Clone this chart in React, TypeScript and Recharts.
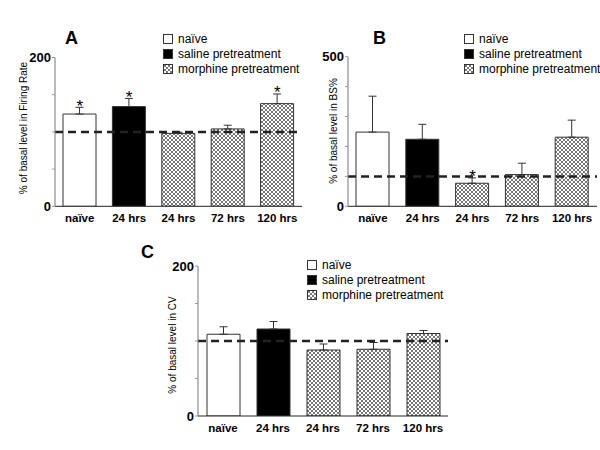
import React from "react";
import {
  ComposedChart,
  Bar,
  Cell,
  ErrorBar,
  Scatter,
  XAxis,
  YAxis,
  ReferenceLine,
} from "recharts";

// groups and categories shared by all three panels
const categories = ["naïve", "24 hrs", "24 hrs", "72 hrs", "120 hrs"];
const groups = ["naive", "saline", "morphine", "morphine", "morphine"];

const legendItems = [
  { key: "naive", label: "naïve" },
  { key: "saline", label: "saline pretreatment" },
  { key: "morphine", label: "morphine pretreatment" },
];

// panel A: firing rate
const firingRate = [124, 134, 98, 104, 138];
const firingRateErr = [9, 11, 1.5, 5, 13];
const firingRateSig = [true, true, false, false, true];

// panel B: BS%
const bsPercent = [248, 224, 77, 106, 231];
const bsPercentErr = [120, 50, 18, 38, 57];
const bsPercentSig = [false, false, true, false, false];

// panel C: CV
const cv = [109, 116, 88, 89, 110];
const cvErr = [10, 10, 8, 9, 4];
const cvSig = [false, false, false, false, false];

const FONT = "'Liberation Sans', Arial, Helvetica, sans-serif";

const fills: Record<string, string> = {
  naive: "#ffffff",
  saline: "#000000",
  morphine: "url(#hatch)",
};

interface PanelProps {
  letter: string;
  yLabel: string;
  values: number[];
  errs: number[];
  sig: boolean[];
  max: number;
  ticks: number[];
  left: number;
  top: number;
  width: number;
  height: number;
  margin: { top: number; right: number; bottom: number; left: number };
  yLabelPos: [number, number];
  letterPos: [number, number];
  legendPos: [number, number];
}

function Star(props: any) {
  const { cx, cy, payload } = props;
  if (payload == null || payload.star == null) return <g />;
  return (
    <text
      x={cx}
      y={cy + 4.5}
      textAnchor="middle"
      fontSize={17}
      fill="#000"
      fontFamily={FONT}
    >
      *
    </text>
  );
}

function Legend({ x, y }: { x: number; y: number }) {
  return (
    <div style={{ position: "absolute", left: x, top: y, whiteSpace: "nowrap" }}>
      {legendItems.map((it) => (
        <div
          key={it.key}
          style={{
            display: "flex",
            alignItems: "center",
            height: 15,
            fontSize: 12,
            color: "#000",
          }}
        >
          <svg width={14} height={10} style={{ marginRight: 1, flexShrink: 0 }}>
            <rect
              x={0.5}
              y={0.5}
              width={9}
              height={9}
              fill={fills[it.key]}
              stroke="#333"
              strokeWidth={1}
            />
          </svg>
          <span>{it.label}</span>
        </div>
      ))}
    </div>
  );
}

function Panel(p: PanelProps) {
  const data = p.values.map((v, i) => ({
    id: "c" + i,
    value: v,
    errRange: [0, p.errs[i]],
    star: p.sig[i] ? v + p.errs[i] : null,
    group: groups[i],
  }));

  const [lx, ly] = p.yLabelPos;

  return (
    <>
      <div
        style={{
          position: "absolute",
          left: p.letterPos[0],
          top: p.letterPos[1],
          fontSize: 18,
          fontWeight: "bold",
          lineHeight: "18px",
        }}
      >
        {p.letter}
      </div>

      <div
        style={{
          position: "absolute",
          left: p.left,
          top: p.top,
          width: p.width,
          height: p.height,
        }}
      >
        <ComposedChart width={p.width} height={p.height} data={data} margin={p.margin}>
          <XAxis
            dataKey="id"
            type="category"
            interval={0}
            height={20}
            tickLine={false}
            axisLine={{ stroke: "#222" }}
            tickFormatter={(v: string) => categories[Number(String(v).slice(1))]}
            tick={{ fill: "#000", fontSize: 11.5, fontWeight: "bold" }}
          />
          <YAxis
            type="number"
            domain={[0, p.max]}
            ticks={p.ticks}
            width={30}
            tickSize={3}
            tickMargin={1}
            allowDataOverflow
            axisLine={{ stroke: "#777" }}
            tickLine={{ stroke: "#999" }}
            tickFormatter={(v: number) => (v === 0 || v === p.max ? String(v) : "")}
            tick={{ fill: "#000", fontSize: 13, fontWeight: "bold" }}
            label={() => (
              <text
                x={lx}
                y={ly}
                textAnchor="middle"
                dominantBaseline="central"
                fontSize={10}
                fill="#000"
                transform={`rotate(-90, ${lx}, ${ly})`}
              >
                {p.yLabel}
              </text>
            )}
          />
          <Bar
            dataKey="value"
            barSize={33}
            stroke="#333"
            strokeWidth={1}
            isAnimationActive={false}
          >
            {data.map((d) => (
              <Cell key={d.id} fill={fills[d.group]} />
            ))}
            <ErrorBar
              dataKey="errRange"
              direction="y"
              width={4}
              stroke="#333"
              strokeWidth={1}
            />
          </Bar>
          <ReferenceLine
            y={100}
            stroke="#222"
            strokeWidth={2.5}
            strokeDasharray="8 5"
          />
          <Scatter dataKey="star" shape={Star} isAnimationActive={false} />
        </ComposedChart>
      </div>

      <Legend x={p.legendPos[0]} y={p.legendPos[1]} />
    </>
  );
}

export default function App() {
  return (
    <div
      style={{
        position: "absolute",
        left: 0,
        top: 0,
        width: 600,
        height: 450,
        background: "#fff",
        fontFamily: FONT,
        overflow: "hidden",
      }}
    >
      <svg width={0} height={0} style={{ position: "absolute" }}>
        <defs>
          <pattern id="hatch" width={4} height={4} patternUnits="userSpaceOnUse">
            <rect width={4} height={4} fill="#ffffff" />
            <path d="M0,0 L4,4 M4,0 L0,4" stroke="#555" strokeWidth={0.8} />
          </pattern>
        </defs>
      </svg>

      <Panel
        letter="A"
        yLabel="% of basal level in Firing Rate"
        values={firingRate}
        errs={firingRateErr}
        sig={firingRateSig}
        max={200}
        ticks={[0, 50, 100, 150, 200]}
        left={0}
        top={20}
        width={310}
        height={215}
        margin={{ top: 37.5, right: 8, bottom: 8.7, left: 25 }}
        yLabelPos={[23, 108]}
        letterPos={[65, 29]}
        legendPos={[163, 31]}
      />

      <Panel
        letter="B"
        yLabel="% of basal level in BS%"
        values={bsPercent}
        errs={bsPercentErr}
        sig={bsPercentSig}
        max={500}
        ticks={[0, 100, 200, 300, 400, 500]}
        left={300}
        top={20}
        width={300}
        height={215}
        margin={{ top: 36.7, right: 3, bottom: 8.7, left: 18 }}
        yLabelPos={[33, 111]}
        letterPos={[373, 29]}
        legendPos={[464, 31]}
      />

      <Panel
        letter="C"
        yLabel="% of basal level in CV"
        values={cv}
        errs={cvErr}
        sig={cvSig}
        max={200}
        ticks={[0, 50, 100, 150, 200]}
        left={140}
        top={235}
        width={320}
        height={210}
        margin={{ top: 31, right: 12, bottom: 9, left: 28 }}
        yLabelPos={[32, 110]}
        letterPos={[141, 243]}
        legendPos={[307, 257]}
      />
    </div>
  );
}
